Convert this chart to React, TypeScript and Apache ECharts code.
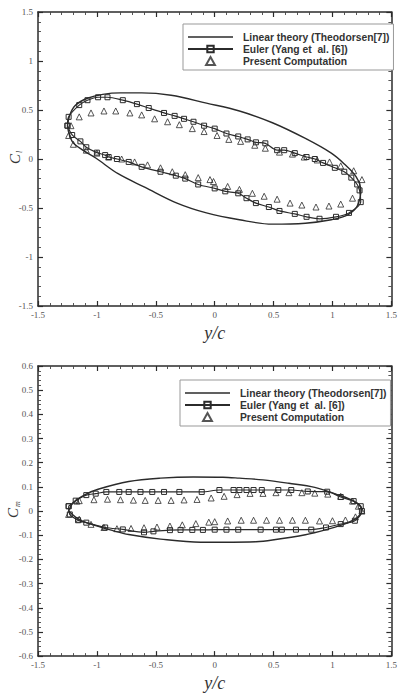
import React, { useEffect, useRef } from "react";
import * as echarts from "echarts";

// ---- Data ----
const xRange = [-1.5, 1.5];
const xInterval = 0.5;
const clRange = [-1.5, 1.5];
const clInterval = 0.5;
const cmRange = [-0.6, 0.6];
const cmInterval = 0.1;

const seriesNames = ["Linear theory (Theodorsen[7])", "Euler (Yang et  al. [6])", "Present Computation"];

// Lift coefficient Cl vs y/c
const clLinear = [
  [-1.25, 0.33], [-1.23, 0.45], [-1.18, 0.55], [-1.08, 0.62], [-0.95, 0.66], [-0.8, 0.675], [-0.62, 0.675],
  [-0.37, 0.65], [-0.07, 0.57], [0.21, 0.49], [0.49, 0.37], [0.77, 0.21], [0.99, 0.06], [1.1, -0.05],
  [1.2, -0.18], [1.24, -0.32], [1.21, -0.48], [1.13, -0.57], [0.99, -0.62], [0.77, -0.655], [0.49, -0.665],
  [0.21, -0.62], [-0.07, -0.55], [-0.32, -0.45], [-0.59, -0.29], [-0.82, -0.15], [-1.01, 0.01], [-1.12, 0.09],
  [-1.21, 0.18], [-1.25, 0.33],
];
const clEuler = [
  [-1.25, 0.34], [-1.24, 0.43], [-1.15, 0.55], [-1.08, 0.6], [-0.99, 0.63], [-0.91, 0.63], [-0.78, 0.6],
  [-0.66, 0.56], [-0.56, 0.52], [-0.43, 0.47], [-0.34, 0.44], [-0.26, 0.41], [-0.18, 0.38], [-0.09, 0.34],
  [0.0, 0.31], [0.1, 0.26], [0.2, 0.23], [0.28, 0.2], [0.35, 0.17], [0.43, 0.16], [0.53, 0.09], [0.59, 0.09],
  [0.68, 0.06], [0.78, 0.02], [0.85, 0.0], [0.92, -0.04], [1.02, -0.09], [1.1, -0.13], [1.16, -0.19],
  [1.21, -0.26], [1.23, -0.32], [1.24, -0.44],
  [1.14, -0.55], [1.03, -0.59], [0.89, -0.61], [0.78, -0.59], [0.68, -0.56], [0.55, -0.53], [0.46, -0.49],
  [0.35, -0.45], [0.27, -0.4], [0.2, -0.35], [0.09, -0.33], [0.0, -0.3], [-0.14, -0.26], [-0.25, -0.2],
  [-0.33, -0.17], [-0.46, -0.13], [-0.62, -0.08], [-0.73, -0.03], [-0.83, 0.0], [-0.9, 0.02], [-0.93, 0.04],
  [-1.0, 0.065], [-1.09, 0.12], [-1.14, 0.18], [-1.21, 0.245], [-1.25, 0.34],
];
const clPresent = [
  [-1.24, 0.24], [-1.22, 0.34], [-1.15, 0.43], [-1.05, 0.47], [-0.94, 0.49], [-0.84, 0.49], [-0.72, 0.47],
  [-0.62, 0.45], [-0.51, 0.41], [-0.4, 0.38], [-0.3, 0.35], [-0.19, 0.31], [-0.09, 0.28], [0.02, 0.24],
  [0.12, 0.2], [0.22, 0.18], [0.34, 0.14], [0.43, 0.11], [0.55, 0.07], [0.66, 0.05], [0.76, 0.02],
  [0.87, -0.01], [0.975, -0.03], [1.07, -0.07], [1.18, -0.12], [1.25, -0.21],
  [1.17, -0.4], [1.07, -0.46], [0.97, -0.48], [0.86, -0.49], [0.74, -0.47], [0.64, -0.45], [0.53, -0.41],
  [0.42, -0.38], [0.32, -0.35], [0.21, -0.31], [0.11, -0.28], [-0.01, -0.23], [-0.04, -0.21], [-0.14, -0.19],
  [-0.25, -0.16], [-0.36, -0.13], [-0.46, -0.09], [-0.57, -0.06], [-0.68, -0.03], [-0.79, 0.0], [-0.9, 0.02],
  [-1.0, 0.06], [-1.09, 0.09], [-1.2, 0.15],
];

// Moment coefficient Cm vs y/c
const cmLinear = [
  [-1.24, 0.0], [-1.2, 0.035], [-1.1, 0.068], [-0.99, 0.09], [-0.73, 0.122], [-0.46, 0.136], [-0.18, 0.141],
  [0.07, 0.14], [0.21, 0.136], [0.41, 0.129], [0.63, 0.115], [0.85, 0.098], [1.04, 0.068], [1.18, 0.041],
  [1.25, 0.007], [1.21, -0.027], [1.1, -0.054], [0.96, -0.075], [0.77, -0.098], [0.49, -0.12], [0.35, -0.127],
  [0.07, -0.129], [-0.12, -0.129], [-0.46, -0.116], [-0.73, -0.097], [-0.87, -0.08], [-1.01, -0.06],
  [-1.15, -0.035], [-1.24, 0.0],
];
const cmEuler = [
  [-1.24, 0.02], [-1.18, 0.043], [-1.09, 0.066], [-1.01, 0.072], [-0.92, 0.079], [-0.81, 0.079], [-0.73, 0.079],
  [-0.63, 0.079], [-0.53, 0.079], [-0.43, 0.079], [-0.3, 0.079], [-0.11, 0.079], [0.04, 0.087], [0.16, 0.087],
  [0.21, 0.087], [0.27, 0.087], [0.33, 0.087], [0.4, 0.087], [0.54, 0.087], [0.65, 0.087], [0.79, 0.081],
  [0.955, 0.08], [1.07, 0.058], [1.18, 0.041], [1.24, 0.02], [1.25, 0.0],
  [1.19, -0.04], [1.07, -0.054], [0.945, -0.068], [0.82, -0.077], [0.69, -0.077], [0.57, -0.077],
  [0.52, -0.077], [0.39, -0.077], [0.2, -0.077], [0.1, -0.077], [0.0, -0.077], [-0.1, -0.078], [-0.19, -0.078],
  [-0.29, -0.078], [-0.38, -0.079], [-0.52, -0.084], [-0.6, -0.088], [-0.78, -0.076], [-0.93, -0.068],
  [-1.09, -0.048], [-1.16, -0.038], [-1.23, -0.014], [-1.24, 0.02],
];
const cmPresent = [
  [-1.24, -0.014], [-1.17, 0.041], [-1.15, 0.043], [-1.025, 0.047], [-0.91, 0.049], [-0.8, 0.047],
  [-0.69, 0.045], [-0.59, 0.044], [-0.48, 0.044], [-0.37, 0.044], [-0.26, 0.046], [-0.15, 0.048],
  [-0.03, 0.054], [0.08, 0.061], [0.19, 0.068], [0.3, 0.073], [0.41, 0.073], [0.52, 0.076], [0.63, 0.076],
  [0.74, 0.076], [0.85, 0.074], [0.96, 0.07], [1.07, 0.061], [1.17, 0.041], [1.22, 0.02], [1.25, 0.0],
  [1.195, -0.024], [1.11, -0.037], [1.0, -0.04], [0.89, -0.041], [0.77, -0.038], [0.66, -0.038],
  [0.55, -0.038], [0.44, -0.038], [0.33, -0.038], [0.225, -0.038], [0.11, -0.041], [0.0, -0.044],
  [-0.05, -0.046], [-0.16, -0.052], [-0.275, -0.057], [-0.38, -0.062], [-0.49, -0.066], [-0.6, -0.069],
  [-0.71, -0.072], [-0.83, -0.073], [-0.94, -0.068], [-1.05, -0.055], [-1.15, -0.034],
];

// ---- Styles ----
const INK = "#2b2b2b";
const LABEL = "#555";
const SERIF = '"Liberation Serif", "DejaVu Serif", serif';
const SANS = '"Liberation Sans", Arial, sans-serif';

function axisBase(position: string, range: number[], interval: number, labels: boolean) {
  return {
    type: "value",
    gridIndex: 0,
    position,
    min: range[0],
    max: range[1],
    interval,
    axisLine: { show: true, onZero: false, lineStyle: { color: INK, width: 1.5 } },
    axisTick: { show: true, inside: true, length: 5, lineStyle: { color: INK, width: 1.2 } },
    minorTick: { show: true, splitNumber: 5, length: 3, lineStyle: { color: "#444", width: 0.9 } },
    splitLine: { show: false },
    minorSplitLine: { show: false },
    axisLabel: { show: labels, fontFamily: SERIF, fontSize: 9, color: LABEL, margin: position === "bottom" ? 4 : 5 },
  };
}

function makeSeries(linear: number[][], euler: number[][], present: number[][]) {
  const hollow = { color: "rgba(255,255,255,0)", borderColor: INK, borderWidth: 1 };
  return [
    {
      name: seriesNames[0],
      type: "line",
      data: linear,
      symbol: "none",
      smooth: 0.35,
      lineStyle: { color: INK, width: 1.4 },
      itemStyle: { color: INK },
    },
    {
      name: seriesNames[1],
      type: "line",
      data: euler,
      symbol: "rect",
      symbolSize: 5,
      showAllSymbol: true,
      smooth: 0.3,
      lineStyle: { color: INK, width: 1.2 },
      itemStyle: hollow,
    },
    {
      name: seriesNames[2],
      type: "scatter",
      data: present,
      symbol: "triangle",
      symbolSize: 6,
      itemStyle: hollow,
    },
  ];
}

function buildOption(cfg: any) {
  return {
    animation: false,
    backgroundColor: "#fff",
    grid: { left: 38, top: cfg.gridTop, width: 359, height: cfg.gridHeight },
    xAxis: [
      {
        ...axisBase("bottom", xRange, xInterval, true),
        name: "y/c",
        nameLocation: "middle",
        nameGap: cfg.nameGap,
        nameTextStyle: { fontFamily: SERIF, fontStyle: "italic", fontSize: 18, color: "#333" },
      },
      axisBase("top", xRange, xInterval, false),
    ],
    yAxis: [
      axisBase("left", cfg.yRange, cfg.yInterval, true),
      axisBase("right", cfg.yRange, cfg.yInterval, false),
    ],
    legend: {
      show: true,
      orient: "vertical",
      left: cfg.legendLeft,
      top: cfg.legendTop,
      selectedMode: false,
      data: [
        { name: seriesNames[0], icon: "path://M0,0 L45,0 L45,1.3 L0,1.3 Z" },
        { name: seriesNames[1] },
        { name: seriesNames[2], icon: "path://M5,0 L10,9 L0,9 Z" },
      ],
      itemWidth: 45,
      itemHeight: 8,
      itemGap: 2,
      padding: [8, 4, 4, 4],
      borderColor: "#999",
      borderWidth: 1,
      backgroundColor: "#fff",
      textStyle: { fontFamily: SANS, fontWeight: "bold", fontSize: 10.3, color: "#333", padding: [0, 0, 0, 5] },
    },
    series: makeSeries(cfg.linear, cfg.euler, cfg.present),
    graphic: [
      {
        type: "group",
        x: cfg.titleX,
        y: cfg.titleY,
        rotation: Math.PI / 2,
        children: [
          { type: "text", x: 0, y: 0, style: { text: "C", font: `italic 15px ${SERIF}`, fill: "#333", align: "center", verticalAlign: "middle" } },
          { type: "text", x: 6, y: 4, style: { text: cfg.sub, font: `italic 8px ${SERIF}`, fill: "#333", align: "left", verticalAlign: "middle" } },
        ],
      },
    ],
  };
}

const topCfg = {
  gridTop: 12, gridHeight: 294, nameGap: 14, yRange: clRange, yInterval: clInterval,
  legendLeft: 183, legendTop: 24, titleX: 15, titleY: 159, sub: "l",
  linear: clLinear, euler: clEuler, present: clPresent,
};
const bottomCfg = {
  gridTop: 18, gridHeight: 296, nameGap: 9, yRange: cmRange, yInterval: cmInterval,
  legendLeft: 180, legendTop: 32, titleX: 13, titleY: 165, sub: "m",
  linear: cmLinear, euler: cmEuler, present: cmPresent,
};

function Panel({ cfg, height }: { cfg: any; height: number }) {
  const ref = useRef<HTMLDivElement>(null);
  useEffect(() => {
    if (!ref.current) return;
    const chart = echarts.init(ref.current, null, { renderer: "svg" });
    chart.setOption(buildOption(cfg) as any);
    return () => chart.dispose();
  }, []);
  return <div ref={ref} style={{ width: 400, height }} />;
}

export default function App() {
  return (
    <div style={{ position: "absolute", left: 0, top: 0, width: 400, height: 697, background: "#fff" }}>
      <Panel cfg={topCfg} height={348} />
      <Panel cfg={bottomCfg} height={349} />
    </div>
  );
}
